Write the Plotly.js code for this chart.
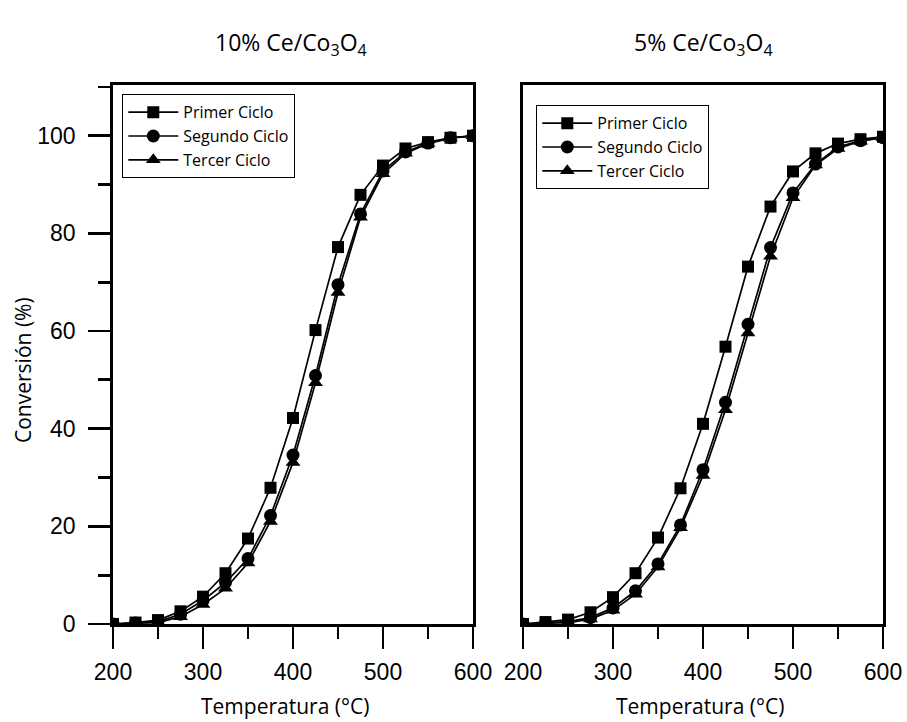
<!DOCTYPE html>
<html>
<head>
<meta charset="utf-8">
<script src="https://cdn.plot.ly/plotly-3.0.1.min.js"></script>
<style>html,body{margin:0;padding:0;background:#fff;}#chart{width:907px;height:722px;}</style>
</head>
<body>
<div id="chart"></div>
<script>
// Temperatures (°C)
const temperatura = [200,225,250,275,300,325,350,375,400,425,450,475,500,525,550,575,600];

// 10% Ce/Co3O4
const ce10_primer   = [0,0.3,0.8,2.6,5.6,10.4,17.5,27.9,42.2,60.2,77.2,87.9,93.9,97.4,98.7,99.6,100];
const ce10_segundo  = [0,0.2,0.5,2.0,4.8,8.5,13.4,22.2,34.6,50.9,69.5,84.0,92.8,96.7,98.5,99.6,100];
const ce10_tercer   = [0,0.1,0.3,1.5,4.0,7.3,12.5,21.0,33.1,49.4,67.9,83.3,92.2,96.4,98.4,99.5,100];

// 5% Ce/Co3O4
const ce5_primer    = [0,0.4,0.9,2.4,5.5,10.4,17.7,27.8,41.0,56.8,73.2,85.5,92.7,96.4,98.4,99.3,99.8];
const ce5_segundo   = [0,0.2,0.5,1.3,3.3,6.8,12.3,20.3,31.6,45.4,61.4,77.1,88.3,94.2,97.7,99.0,99.6];
const ce5_tercer    = [0,0.1,0.3,1.0,2.8,6.1,11.7,19.7,30.4,43.9,59.6,75.3,87.3,94.0,97.4,98.9,99.6];

const serieNames = ["Primer Ciclo","Segundo Ciclo","Tercer Ciclo"];
const symbols = ["square","circle","triangle-up"];
const panelTitles = ["10% Ce/Co<sub>3</sub>O<sub>4</sub>","5% Ce/Co<sub>3</sub>O<sub>4</sub>"];
const xTitle = "Temperatura (°C)";
const yTitle = "Conversión (%)";

const FONT = "'Open Sans', 'Noto Sans', sans-serif";
const NUMFONT = "'Liberation Sans', Arial, sans-serif";

function mk(y, i, xa, ya, leg) {
  return {
    x: temperatura, y: y, name: serieNames[i], type: 'scatter', mode: 'lines+markers',
    xaxis: xa, yaxis: ya, legend: leg,
    line: {color: '#000', width: 1.7},
    marker: {symbol: symbols[i], size: i === 0 ? 12 : 13, color: '#000', line: {width: 0}}
  };
}

const data = [
  mk(ce10_primer, 0, 'x', 'y', 'legend'),
  mk(ce10_segundo, 1, 'x', 'y', 'legend'),
  mk(ce10_tercer, 2, 'x', 'y', 'legend'),
  mk(ce5_primer, 0, 'x2', 'y2', 'legend2'),
  mk(ce5_segundo, 1, 'x2', 'y2', 'legend2'),
  mk(ce5_tercer, 2, 'x2', 'y2', 'legend2')
];

const W = 907, H = 722;
const yDom = [(H-624)/H, (H-85)/H];

const xBase = {
  range: [200, 600], dtick: 100, tick0: 200,
  showline: true, mirror: true, linecolor: '#000', linewidth: 2.8,
  ticks: 'outside', ticklen: 22, tickwidth: 2.8, tickcolor: '#000',
  minor: {dtick: 50, tick0: 200, ticks: 'outside', ticklen: 12, tickwidth: 2.8, tickcolor: '#000', showgrid: false},
  showgrid: false, zeroline: false, ticklabelstandoff: 4,
  tickfont: {family: NUMFONT, size: 23, color: '#000'}
};

const legBase = {
  xanchor: 'left', yanchor: 'top',
  bordercolor: '#000', borderwidth: 1.3, bgcolor: '#fff',
  font: {family: FONT, size: 16, color: '#000'}, itemwidth: 50, tracegroupgap: 0
};

const layout = {
  width: W, height: H,
  margin: {l: 0, r: 0, t: 0, b: 0},
  paper_bgcolor: '#fff', plot_bgcolor: '#fff',
  showlegend: true,
  xaxis: Object.assign({}, xBase, {domain: [113/W, 473/W], anchor: 'y'}),
  xaxis2: Object.assign({}, xBase, {domain: [523/W, 883/W], anchor: 'y2'}),
  yaxis: {
    domain: yDom, anchor: 'x', range: [0, 110.4], dtick: 20, tick0: 0,
    showline: true, mirror: true, linecolor: '#000', linewidth: 2.8,
    ticks: 'outside', ticklen: 22, tickwidth: 2.8, tickcolor: '#000',
    minor: {dtick: 10, tick0: 0, ticks: 'outside', ticklen: 12, tickwidth: 2.8, tickcolor: '#000', showgrid: false},
    showgrid: false, zeroline: false, ticklabelstandoff: 8,
    tickfont: {family: NUMFONT, size: 23, color: '#000'}
  },
  yaxis2: {
    domain: yDom, anchor: 'x2', range: [0, 110.4],
    showline: true, mirror: true, linecolor: '#000', linewidth: 2.8,
    ticks: '', showticklabels: false, showgrid: false, zeroline: false
  },
  legend: Object.assign({}, legBase, {x: 122/W, y: 1 - 94/H}),
  legend2: Object.assign({}, legBase, {x: 536/W, y: 1 - 105/H}),
  annotations: [
    {text: panelTitles[0], xref: 'paper', yref: 'paper', x: 291/W, y: 1 - 44/H, showarrow: false,
     xanchor: 'center', yanchor: 'middle', font: {family: FONT, size: 23, color: '#000'}},
    {text: panelTitles[1], xref: 'paper', yref: 'paper', x: 703/W, y: 1 - 44/H, showarrow: false,
     xanchor: 'center', yanchor: 'middle', font: {family: FONT, size: 23, color: '#000'}},
    {text: xTitle, xref: 'paper', yref: 'paper', x: 285/W, y: 1 - 706/H, showarrow: false,
     xanchor: 'center', yanchor: 'middle', font: {family: FONT, size: 21, color: '#000'}},
    {text: xTitle, xref: 'paper', yref: 'paper', x: 700/W, y: 1 - 706/H, showarrow: false,
     xanchor: 'center', yanchor: 'middle', font: {family: FONT, size: 21, color: '#000'}},
    {text: yTitle, xref: 'paper', yref: 'paper', x: 23/W, y: 1 - 370/H, showarrow: false, textangle: -90,
     xanchor: 'center', yanchor: 'middle', font: {family: FONT, size: 21, color: '#000'}}
  ]
};

Plotly.newPlot('chart', data, layout, {staticPlot: true, displayModeBar: false});
</script>
</body>
</html>
